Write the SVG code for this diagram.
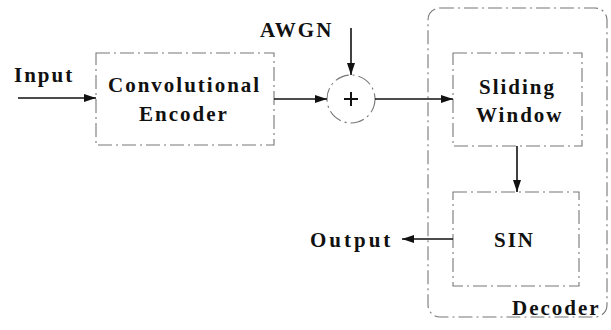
<svg xmlns="http://www.w3.org/2000/svg" width="611" height="330" viewBox="0 0 611 330">
<defs>
<style>
text{font-family:'Liberation Serif',serif;font-weight:700;font-size:21px;letter-spacing:2px;fill:#111}
.box{fill:none;stroke:#777;stroke-width:1.1;stroke-dasharray:14 4 2 4}
.ln{fill:none;stroke:#111;stroke-width:1.6}
</style>
<marker id="ah" viewBox="0 0 12 8" refX="12" refY="4" markerWidth="12" markerHeight="8" markerUnits="userSpaceOnUse" orient="auto">
<path d="M0,0 L12,4 L0,8 Z" fill="#111"/>
</marker>
</defs>
<rect width="611" height="330" fill="#fff"/>
<g id="decoder">
<rect class="box" x="428" y="8" width="179" height="309" rx="12"/>
<text x="512" y="315">Decoder</text>
</g>
<g id="input"><text x="14" y="82">Input</text></g>
<g id="awgn"><text x="260" y="37">AWGN</text></g>
<g id="output"><text x="310" y="247" style="letter-spacing:3px">Output</text></g>
<g id="encoder">
<rect class="box" x="96" y="53" width="178" height="92"/>
<text x="108" y="92">Convolutional</text>
<text x="139" y="121">Encoder</text>
</g>
<g id="adder">
<circle class="box" cx="351" cy="99" r="24"/>
<path d="M344,99 H358 M351,92 V106" stroke="#111" stroke-width="2" fill="none"/>
</g>
<g id="sliding">
<rect class="box" x="453" y="53" width="129" height="93"/>
<text x="479" y="94">Sliding</text>
<text x="476" y="122">Window</text>
</g>
<g id="sin">
<rect class="box" x="453" y="192" width="126" height="94"/>
<text x="494" y="247">SIN</text>
</g>
<g id="connectors">
<line class="ln" x1="18" y1="98" x2="96" y2="98" marker-end="url(#ah)"/>
<line class="ln" x1="274" y1="99" x2="327" y2="99" marker-end="url(#ah)"/>
<line class="ln" x1="351" y1="28" x2="351" y2="75" marker-end="url(#ah)"/>
<line class="ln" x1="375" y1="99" x2="453" y2="99" marker-end="url(#ah)"/>
<line class="ln" x1="517" y1="146" x2="517" y2="192" marker-end="url(#ah)"/>
<line class="ln" x1="453" y1="239" x2="402" y2="239" marker-end="url(#ah)"/>
</g>
</svg>
